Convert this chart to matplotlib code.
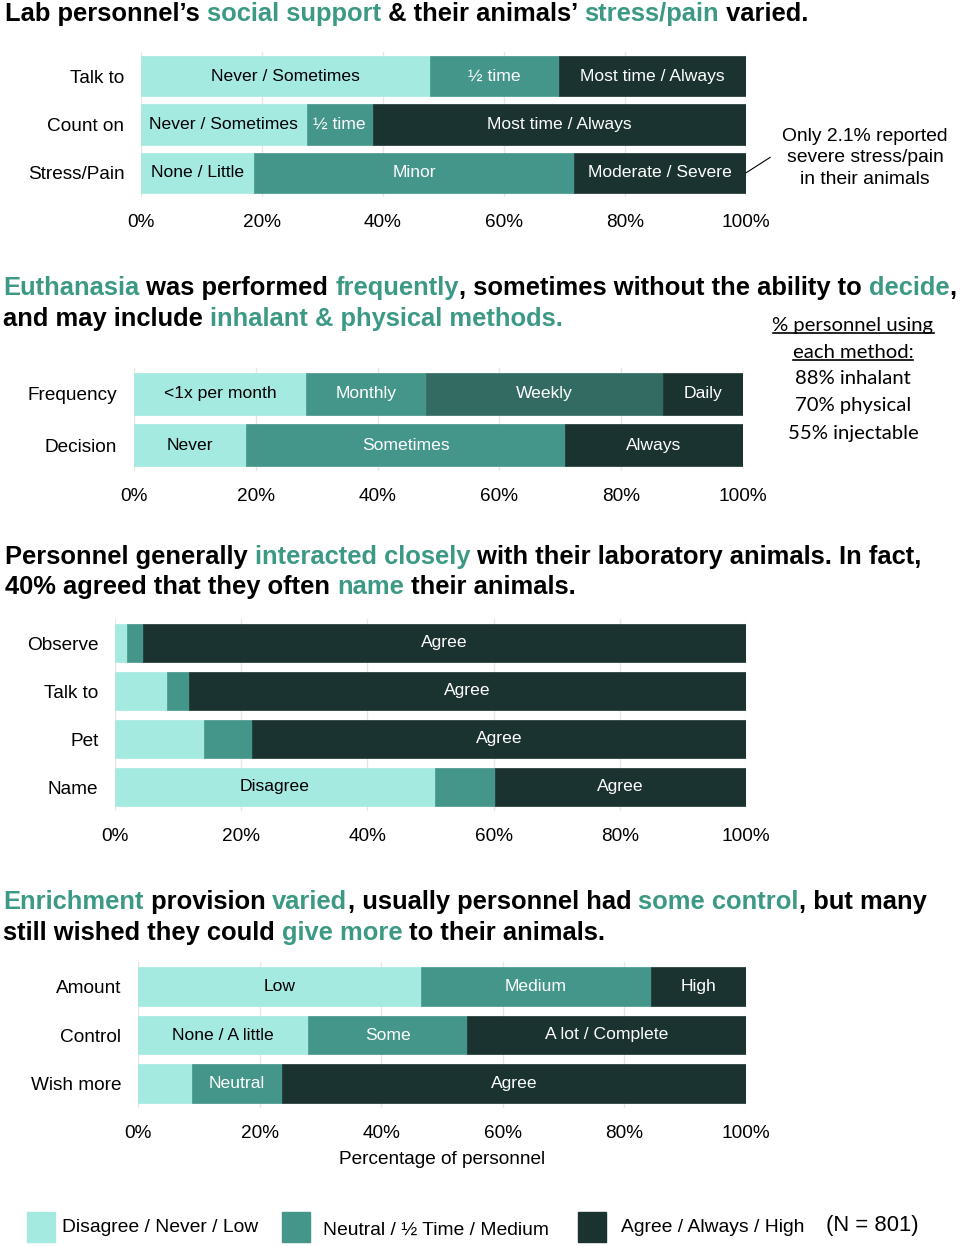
import matplotlib
matplotlib.use('Agg')
import matplotlib.pyplot as plt
from matplotlib.patches import Rectangle

plt.rcParams['font.family'] = ['Liberation Sans', 'DejaVu Sans']

# colours
LIGHT = '#a5eae1'
MID = '#45968a'
WEEK = '#336b62'
DARK = '#1b3330'
GREEN = '#3c9985'

# panel 1: social support & stress/pain
p1_cats = ['Talk to', 'Count on', 'Stress/Pain']
p1_values = [[47.8, 21.3, 30.9], [27.4, 10.9, 61.7], [18.7, 52.9, 28.4]]
p1_labels = [['Never / Sometimes', '½ time', 'Most time / Always'],
             ['Never / Sometimes', '½ time', 'Most time / Always'],
             ['None / Little', 'Minor', 'Moderate / Severe']]

# panel 2: euthanasia
p2_cats = ['Frequency', 'Decision']
p2_values = [[28.2, 19.8, 38.9, 13.1], [18.4, 52.4, 29.2]]
p2_labels = [['<1x per month', 'Monthly', 'Weekly', 'Daily'],
             ['Never', 'Sometimes', 'Always']]
p2_methods = ['88% inhalant', '70% physical', '55% injectable']

# panel 3: interaction
p3_cats = ['Observe', 'Talk to', 'Pet', 'Name']
p3_values = [[1.9, 2.5, 95.6], [8.2, 3.5, 88.3], [14.1, 7.6, 78.3], [50.7, 9.5, 39.8]]
p3_labels = [['', '', 'Agree'], ['', '', 'Agree'], ['', '', 'Agree'], ['Disagree', '', 'Agree']]

# panel 4: enrichment
p4_cats = ['Amount', 'Control', 'Wish more']
p4_values = [[46.5, 37.9, 15.6], [28.0, 26.1, 45.9], [8.9, 14.8, 76.3]]
p4_labels = [['Low', 'Medium', 'High'],
             ['None / A little', 'Some', 'A lot / Complete'],
             ['', 'Neutral', 'Agree']]

legend_labels = ['Disagree / Never / Low', 'Neutral / ½ Time / Medium', 'Agree / Always / High']

W, H = 960, 1246
fig = plt.figure(figsize=(W / 100, H / 100), dpi=100)
rend = fig.canvas.get_renderer()


def px_axes(left, top, right, bottom):
    return fig.add_axes([left / W, 1 - bottom / H, (right - left) / W, (bottom - top) / H])


def text_width(txt, **kw):
    a = fig.text(0, 0, txt + '|', **kw)
    b = fig.text(0, 0, '|', **kw)
    w = a.get_window_extent(rend).width - b.get_window_extent(rend).width
    a.remove(); b.remove()
    return w


def rich_line(x, y, parts, size=18.4):
    for txt, col in parts:
        kw = dict(fontsize=size, fontweight='bold')
        fig.text(x / W, 1 - y / H, txt, color=col, va='center', ha='left', **kw)
        x += text_width(txt, **kw)


def stacked(ax, cats, rows, labels, colors, height):
    for i, (vals, labs, cols) in enumerate(zip(rows, labels, colors)):
        left = 0
        for v, lab, c in zip(vals, labs, cols):
            ax.barh(i, v, left=left, height=height, color=c, edgecolor=c, linewidth=0.5, zorder=2)
            if lab:
                tc = 'black' if c == LIGHT else 'white'
                ax.text(left + v / 2, i, lab, ha='center', va='center', color=tc, fontsize=12.6, zorder=3)
            left += v
    ax.set_xlim(0, 100)
    ax.set_ylim(len(cats) - 0.5, -0.5)
    ax.set_yticks(range(len(cats)), cats)
    ax.set_xticks(range(0, 101, 20), [f'{t}%' for t in range(0, 101, 20)])
    ax.grid(axis='x', color='#e6e6e6', linewidth=1, zorder=0)
    ax.set_axisbelow(True)
    for s in ax.spines.values():
        s.set_visible(False)
    ax.tick_params(length=0, labelsize=13.7, colors='black')
    ax.tick_params(axis='x', pad=12)
    ax.tick_params(axis='y', pad=12)


# ---- panel 1
rich_line(5, 14, [('Lab personnel’s ', 'black'), ('social support', GREEN), (' & their animals’ ', 'black'),
                  ('stress/pain', GREEN), (' varied.', 'black')])
ax1 = px_axes(141, 52, 746, 197)
stacked(ax1, p1_cats, p1_values, p1_labels, [[LIGHT, MID, DARK]] * 3, 0.83)
fig.text(865 / W, 1 - 158 / H, 'Only 2.1% reported\nsevere stress/pain\nin their animals', ha='center', va='center',
         fontsize=13.9, linespacing=1.38)
ax1.plot([100, 104], [2.0, 1.68], color='black', lw=0.8, clip_on=False)

# ---- panel 2
rich_line(3, 288, [('Euthanasia', GREEN), (' was performed ', 'black'), ('frequently', GREEN),
                   (', sometimes without the ability to ', 'black'), ('decide', GREEN), (',', 'black')])
rich_line(3, 319, [('and may include ', 'black'), ('inhalant & physical methods.', GREEN)])
ax2 = px_axes(134, 368, 743, 471)
stacked(ax2, p2_cats, p2_values, p2_labels, [[LIGHT, MID, WEEK, DARK], [LIGHT, MID, DARK]], 0.82)
for k, line in enumerate(['% personnel using', 'each method:']):
    yy = 325 + 27 * k
    t = fig.text(853 / W, 1 - yy / H, line, ha='center', va='center', fontsize=14.6, family='Lato')
    bb = t.get_window_extent(rend)
    fig.add_artist(plt.Line2D([bb.x0 / W, bb.x1 / W], [(bb.y0 + 1) / H, (bb.y0 + 1) / H], color='black', lw=1.2))
for k, line in enumerate(p2_methods):
    fig.text(853 / W, 1 - (379 + 27 * k) / H, line, ha='center', va='center', fontsize=14.6, family='Lato')

# ---- panel 3
rich_line(5, 557, [('Personnel generally ', 'black'), ('interacted closely', GREEN),
                   (' with their laboratory animals. In fact,', 'black')])
rich_line(5, 587, [('40% agreed that they often ', 'black'), ('name', GREEN), (' their animals.', 'black')])
ax3 = px_axes(115, 619, 746, 811)
stacked(ax3, p3_cats, p3_values, p3_labels, [[LIGHT, MID, DARK]] * 4, 0.81)

# ---- panel 4
rich_line(3, 902, [('Enrichment', GREEN), (' provision ', 'black'), ('varied', GREEN),
                   (', usually personnel had ', 'black'), ('some control', GREEN), (', but many', 'black')])
rich_line(3, 933, [('still wished they could ', 'black'), ('give more', GREEN), (' to their animals.', 'black')])
ax4 = px_axes(138, 962, 746, 1108)
stacked(ax4, p4_cats, p4_values, p4_labels, [[LIGHT, MID, DARK]] * 3, 0.8)
ax4.set_xlabel('Percentage of personnel', fontsize=13.7, labelpad=7)

# ---- legend
leg_x = [27, 282, 578]
leg_tx = [62, 323, 621]
leg_ty = [1228, 1230, 1228]
leg_cols = [LIGHT, MID, DARK]
for xl, xt, yt, col, lab in zip(leg_x, leg_tx, leg_ty, leg_cols, legend_labels):
    fig.add_artist(Rectangle((xl / W, 1 - 1242 / H), 28 / W, 30 / H, transform=fig.transFigure,
                             facecolor=col, edgecolor=col, lw=1))
    fig.text(xt / W, 1 - yt / H, lab, ha='left', va='center', fontsize=13.9)
fig.text(826 / W, 1 - 1225 / H, '(N = 801)', ha='left', va='center', fontsize=15.8)

fig.savefig('out.png', dpi=100)
